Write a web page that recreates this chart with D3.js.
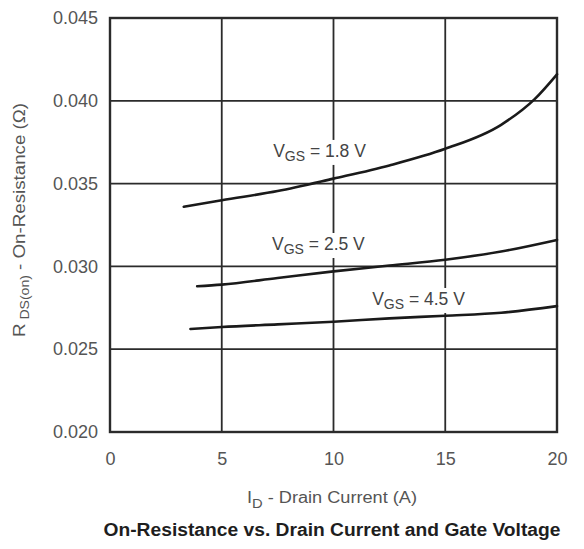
<!DOCTYPE html>
<html>
<head>
<meta charset="utf-8">
<script src="https://cdn.jsdelivr.net/npm/d3@7"></script>
<style>
  html, body { margin: 0; padding: 0; background: #fff; }
  svg { display: block; font-family: "Liberation Sans", Arial, sans-serif; }
</style>
</head>
<body>
<svg id="chart" width="584" height="549"></svg>
<script>
// Drain current (A) and on-resistance (ohm) for each gate voltage
const id18 = [3.3, 5, 7.5, 10, 12.5, 15, 17.5, 19, 20];
const r18  = [0.0336, 0.0340, 0.03455, 0.0353, 0.0361, 0.0371, 0.03855, 0.0401, 0.0416];
const id25 = [3.9, 5, 7.5, 10, 12.5, 15, 17.5, 20];
const r25  = [0.0288, 0.0289, 0.0293, 0.0297, 0.03005, 0.0304, 0.0309, 0.0316];
const id45 = [3.6, 5, 7.5, 10, 12.5, 15, 17.5, 20];
const r45  = [0.02622, 0.02634, 0.0265, 0.02666, 0.02686, 0.02702, 0.0272, 0.0276];

const xTicks = [0, 5, 10, 15, 20];
const yTicks = [0.020, 0.025, 0.030, 0.035, 0.040, 0.045];

// Curve labels: gate voltage and anchor in data units (I_D, R)
const labelVolts = ["1.8", "2.5", "4.5"];
const labelAt = [[7.3, 0.03661], [7.25, 0.03099], [11.73, 0.02767]];

const series = [
  { id: id18, r: r18 },
  { id: id25, r: r25 },
  { id: id45, r: r45 }
];

const margin = { left: 110, top: 18, right: 27, bottom: 117 };
const W = 584, H = 549;
const svg = d3.select("#chart");

const x = d3.scaleLinear().domain([0, 20]).range([margin.left, W - margin.right]);
const y = d3.scaleLinear().domain([0.020, 0.045]).range([H - margin.bottom, margin.top]);

const gridColor = "#2b2b2b";
const textColor = "#555";

// Grid lines
svg.append("g").selectAll("line").data(xTicks).join("line")
  .attr("x1", d => x(d)).attr("x2", d => x(d))
  .attr("y1", y(0.045)).attr("y2", y(0.020))
  .attr("stroke", gridColor).attr("stroke-width", 1.8);
svg.append("g").selectAll("line").data(yTicks).join("line")
  .attr("x1", x(0)).attr("x2", x(20))
  .attr("y1", d => y(d)).attr("y2", d => y(d))
  .attr("stroke", gridColor).attr("stroke-width", 1.8);

// Frame
svg.append("rect")
  .attr("x", x(0)).attr("y", y(0.045))
  .attr("width", x(20) - x(0)).attr("height", y(0.020) - y(0.045))
  .attr("fill", "none").attr("stroke", gridColor).attr("stroke-width", 2.4);

// Axes (labels only, grid drawn above)
const yAxis = d3.axisLeft(y).tickValues(yTicks).tickFormat(d3.format(".3f")).tickSize(0).tickPadding(12);
const gy = svg.append("g").attr("transform", `translate(${x(0)},0)`).call(yAxis);
gy.select(".domain").remove();
gy.selectAll("text").attr("fill", textColor).style("font-size", "18px")
  .attr("font-family", "Liberation Sans, Arial, sans-serif");

const xAxis = d3.axisBottom(x).tickValues(xTicks).tickFormat(d3.format("d")).tickSize(0).tickPadding(20);
const gx = svg.append("g").attr("transform", `translate(0,${y(0.020)})`).call(xAxis);
gx.select(".domain").remove();
gx.selectAll("text").attr("fill", textColor).style("font-size", "18px")
  .attr("font-family", "Liberation Sans, Arial, sans-serif");

// Curves
const line = d3.line().x(d => x(d[0])).y(d => y(d[1])).curve(d3.curveMonotoneX);
svg.append("g").selectAll("path").data(series).join("path")
  .attr("d", s => line(s.id.map((v, i) => [v, s.r[i]])))
  .attr("fill", "none").attr("stroke", "#1a1a1a").attr("stroke-width", 2.6)
  .attr("stroke-linecap", "round");

// Curve labels with white backing
labelVolts.forEach((v, i) => {
  const g = svg.append("g");
  const t = g.append("text")
    .attr("x", x(labelAt[i][0])).attr("y", y(labelAt[i][1]))
    .attr("fill", "#444").style("font-size", "17.5px");
  t.append("tspan").text("V");
  t.append("tspan").attr("dy", 4).style("font-size", "14px").text("GS");
  t.append("tspan").attr("dy", -4).text(` = ${v} V`);
  const bb = t.node().getBBox();
  g.insert("rect", "text")
    .attr("x", bb.x - 2).attr("y", bb.y - 1)
    .attr("width", bb.width + 4).attr("height", bb.height + 2)
    .attr("fill", "#fff");
});

// X axis title
const xt = svg.append("text")
  .attr("x", 332).attr("y", 503).attr("text-anchor", "middle")
  .attr("fill", textColor).style("font-size", "16px")
  .attr("textLength", 170).attr("lengthAdjust", "spacingAndGlyphs");
xt.append("tspan").text("I");
xt.append("tspan").attr("dy", 5).style("font-size", "13px").text("D");
xt.append("tspan").attr("dy", -5).text(" - Drain Current (A)");

// Y axis title
const yt = svg.append("text")
  .attr("transform", "translate(25,220) rotate(-90)")
  .attr("text-anchor", "middle")
  .attr("fill", textColor).style("font-size", "16px")
  .attr("textLength", 234).attr("lengthAdjust", "spacingAndGlyphs");
yt.append("tspan").text("R");
yt.append("tspan").attr("dy", 4).style("font-size", "12px").text(" DS(on)");
yt.append("tspan").attr("dy", -4).text("  - On-Resistance (Ω)");

// Chart title
svg.append("text")
  .attr("x", 332).attr("y", 536).attr("text-anchor", "middle")
  .attr("fill", "#1e1e1e").style("font-size", "18px").style("font-weight", "bold")
  .attr("textLength", 457).attr("lengthAdjust", "spacingAndGlyphs")
  .text("On-Resistance vs. Drain Current and Gate Voltage");
</script>
</body>
</html>
